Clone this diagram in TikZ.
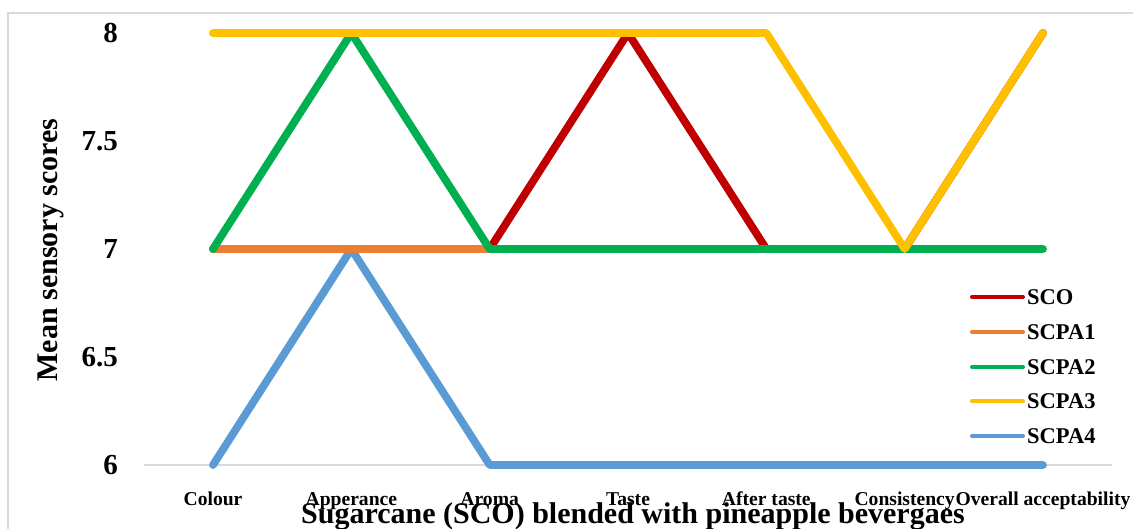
\documentclass[tikz,border=0pt]{standalone}
\usepackage{fontspec}
\setmainfont{Liberation Serif}
\usetikzlibrary{positioning}

\definecolor{scoRed}{HTML}{C00000}
\definecolor{scpaOrange}{HTML}{ED7D31}
\definecolor{scpaGreen}{HTML}{00B050}
\definecolor{scpaYellow}{HTML}{FFC000}
\definecolor{scpaBlue}{HTML}{5B9BD5}
\definecolor{gridGray}{HTML}{D9D9D9}

\begin{document}
\begin{tikzpicture}[x=1pt, y=1pt]

   \tikzstyle{series}=[line width=7.8pt, line cap=round, line join=round]
   \tikzstyle{ticklbl}=[anchor=east, inner sep=0pt, font=\fontsize{29}{29}\selectfont\bfseries]
   \tikzstyle{catlbl}=[anchor=base, inner sep=0pt, font=\fontsize{19.6}{19.6}\selectfont\bfseries]
   \tikzstyle{axtitle}=[anchor=base, inner sep=0pt, font=\fontsize{30}{30}\selectfont\bfseries]
   \tikzstyle{legline}=[line width=4pt, line cap=round]
   \tikzstyle{leglbl}=[anchor=west, inner sep=0pt, font=\fontsize{22.5}{22.5}\selectfont\bfseries]

   \useasboundingbox (0,0) rectangle (1133,-529);

   % chart frame
   \coordinate (f0) at (8,-529);
   \coordinate (f1) at (8,-13);
   \coordinate (f2) at (1133,-13);
   \draw[gridGray, line width=1.5pt] (f0) -- (f1) -- (f2);

   % value axis
   \node[ticklbl] (t8)  at (118,-33)  {8};
   \node[ticklbl] (t75) at (118,-141) {7.5};
   \node[ticklbl] (t7)  at (118,-249) {7};
   \node[ticklbl] (t65) at (118,-357) {6.5};
   \node[ticklbl] (t6)  at (118,-465) {6};

   \coordinate (a0) at (144,-465);
   \coordinate (a1) at (1112,-465);
   \draw[gridGray, line width=1.5pt] (a0) -- (a1);

   % categories
   \foreach \lbl [count=\i from 0] in {Colour, Apperance, Aroma, Taste, After taste, Consistency, Overall acceptability}
      \node[catlbl] (c\i) at ({213+138.33*\i},-505) {\lbl};

   \node[axtitle] (xt) at (633,-523) {Sugarcane (SCO) blended with pineapple bevergaes};
   \node[axtitle, rotate=90] (yt) at (57,-250) {Mean sensory scores};

   % sensory scores
   \begin{scope}[shift={(213,-1761)}, x=138.33pt, y=216pt]
      \draw[series, scpaBlue]   plot coordinates {(0,6) (1,7) (2,6) (3,6) (4,6) (5,6) (6,6)};
      \draw[series, scoRed]     plot coordinates {(0,7) (1,7) (2,7) (3,8) (4,7) (5,7) (6,8)};
      \draw[series, scpaOrange] plot coordinates {(0,7) (1,7) (2,7) (3,7) (4,7) (5,7) (6,8)};
      \draw[series, scpaGreen]  plot coordinates {(0,7) (1,8) (2,7) (3,7) (4,7) (5,7) (6,7)};
      \draw[series, scpaYellow] plot coordinates {(0,8) (1,8) (2,8) (3,8) (4,8) (5,7) (6,8)};
   \end{scope}

   % legend
   \coordinate (l1a) at (972,-297);  \coordinate (l1b) at (1023,-297);
   \coordinate (l2a) at (972,-332);  \coordinate (l2b) at (1023,-332);
   \coordinate (l3a) at (972,-367);  \coordinate (l3b) at (1023,-367);
   \coordinate (l4a) at (972,-401);  \coordinate (l4b) at (1023,-401);
   \coordinate (l5a) at (972,-436);  \coordinate (l5b) at (1023,-436);

   \draw[legline, scoRed]     (l1a) -- (l1b);
   \draw[legline, scpaOrange] (l2a) -- (l2b);
   \draw[legline, scpaGreen]  (l3a) -- (l3b);
   \draw[legline, scpaYellow] (l4a) -- (l4b);
   \draw[legline, scpaBlue]   (l5a) -- (l5b);

   \node[leglbl] (n1) at (1027,-297) {SCO};
   \node[leglbl] (n2) at (1027,-332) {SCPA1};
   \node[leglbl] (n3) at (1027,-367) {SCPA2};
   \node[leglbl] (n4) at (1027,-401) {SCPA3};
   \node[leglbl] (n5) at (1027,-436) {SCPA4};

\end{tikzpicture}
\end{document}
